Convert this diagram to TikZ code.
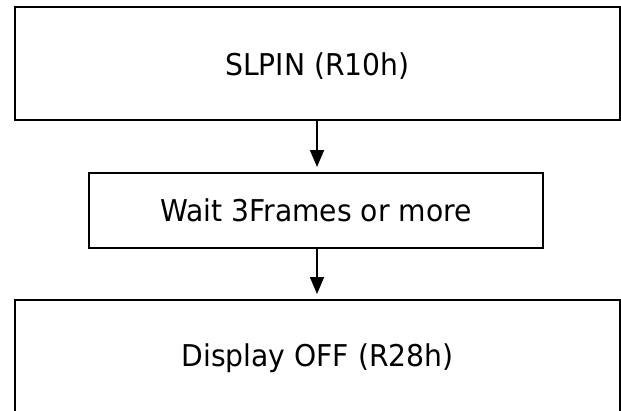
\documentclass[tikz,border=0pt]{standalone}
\usepackage{fontspec}
\setmainfont{DejaVu Sans}[FakeStretch=0.94]
\usetikzlibrary{arrows.meta}
\begin{document}
\begin{tikzpicture}[x=1pt,y=-1pt,
  stepbox/.style={draw=black, line width=1.8pt, fill=white, inner sep=0pt, outer sep=0pt,
    font=\fontsize{30}{36}\selectfont, text=black},
  steptext/.style={inner sep=0pt, font=\fontsize{30}{36}\selectfont, text=black},
  flow/.style={line width=1.8pt, -{Triangle[width=14pt,length=17pt]}, shorten >=6pt}]
  \useasboundingbox (0,0) rectangle (621,410);
  \clip (0,0) rectangle (621,410);
  % step boxes; the last one runs past the lower edge
  \node[stepbox, minimum width=605pt, minimum height=113pt] (slpin) at (317.5,63.5) {};
  \node[steptext] (slpintext) at ([yshift=-2.5pt]slpin.center) {SLPIN (R10h)};
  \node[stepbox, minimum width=454pt, minimum height=75pt] (wait) at (316,210.5) {Wait 3Frames or more};
  \node[stepbox, minimum width=605pt, minimum height=116pt] (dispoff) at (317.5,358) {Display OFF (R28h)};
  % connectors
  \draw[flow] (slpin.south -| 317,0) -- (wait.north -| 317,0);
  \draw[flow] (wait.south -| 317,0) -- (dispoff.north -| 317,0);
\end{tikzpicture}
\end{document}
